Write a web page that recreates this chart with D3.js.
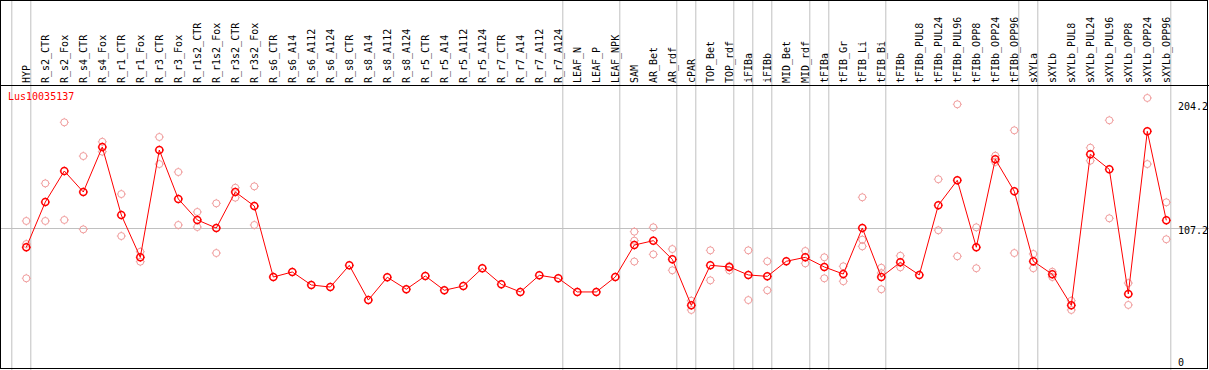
<!DOCTYPE html>
<meta charset="utf-8">
<style>
body { margin: 0; background: #fff; }
svg { display: block; }
text { font-family: "DejaVu Sans Mono", monospace; font-size: 10px; }
</style>
<body>
<script src="https://cdn.jsdelivr.net/npm/d3@7/dist/d3.min.js"></script>
<script>
// sample names, left to right
var categories = ["HYP","R_s2_CTR","R_s2_Fox","R_s4_CTR","R_s4_Fox","R_r1_CTR","R_r1_Fox","R_r3_CTR","R_r3_Fox",
  "R_r1s2_CTR","R_r1s2_Fox","R_r3s2_CTR","R_r3s2_Fox","R_s6_CTR","R_s6_A14","R_s6_A112","R_s6_A124",
  "R_s8_CTR","R_s8_A14","R_s8_A112","R_s8_A124","R_r5_CTR","R_r5_A14","R_r5_A112","R_r5_A124",
  "R_r7_CTR","R_r7_A14","R_r7_A112","R_r7_A124","LEAF_N","LEAF_P","LEAF_NPK","SAM","AR_Bet","AR_rdf",
  "cPAR","TOP_Bet","TOP_rdf","iFIBa","iFIBb","MID_Bet","MID_rdf","tFIBa","tFIB_Gr","tFIB_Li","tFIB_Bi",
  "tFIBb","tFIBb_PUL8","tFIBb_PUL24","tFIBb_PUL96","tFIBb_OPP8","tFIBb_OPP24","tFIBb_OPP96",
  "sXYLa","sXYLb","sXYLb_PUL8","sXYLb_PUL24","sXYLb_PUL96","sXYLb_OPP8","sXYLb_OPP24","sXYLb_OPP96"];

// mean expression per sample
var means = [92.2,127.3,151.4,135.1,170.0,117.2,84.4,167.7,129.7,113.4,107.1,135.1,124.2,
  69.1,73.0,62.9,61.3,78.2,51.2,68.9,59.6,69.9,58.8,62.1,75.9,63.4,57.5,70.4,68.1,57.5,57.5,69.1,
  93.9,97.3,82.8,47.1,78.2,76.9,70.7,69.6,81.3,84.4,76.9,71.4,107.1,69.1,80.5,70.7,124.8,144.2,
  92.2,160.5,135.6,81.3,71.2,47.1,164.4,152.7,55.9,182.2,113.1];

// replicate values per sample
var replicates = [[112.6,94.7,68.1],[141.8,112.6],[189.2,113.4],[163.0,106.1],[174.1,166.4],
  [133.5,100.9],[88.7,81.0],[177.8,156.8],[150.6,109.5],[119.6,107.9],[126.3,87.7],[138.4,130.7],
  [139.5,109.5],[],[],[],[],[],[],[],[],[],[],[],[],[],[],[],[],[],[],[],
  [104.3,97.3,81.1],[107.7,86.7],[90.8,74.3],[50.7,43.5],[89.8,66.5],[77.6,74.3],[89.8,51.2],
  [81.3,58.8],[],[89.3,79.7],[84.4,68.1],[77.4,65.8],[131.0,98.1,92.9],[76.3,72.2,59.6],
  [85.6,76.6],[],[145.0,105.4],[203.2,85.2],[107.7,75.9],[163.3,158.4],[183.0,87.7],
  [87.0,75.9],[73.2,69.1],[50.7,43.5],[169.5,159.4],[190.8,114.7],[64.4,47.4],[208.1,156.8],
  [127.1,98.4]];

// group dividers drawn after these samples
var dividersAfter = ["HYP","R_r7_A124","LEAF_NPK","AR_rdf","cPAR","TOP_rdf","iFIBa","iFIBb",
  "MID_rdf","tFIBa","tFIB_Bi","tFIBb_OPP96","sXYLa","sXYLb_OPP96"];

var yTicks = [0, 107.2, 204.2];
var gridTicks = [107.2];
var geneName = "Lus10035137";

var W = 1209, H = 370, headerH = 85;

var x = d3.scalePoint().domain(categories).range([26.3, 1166.3]);
var step = x.step();
var y = d3.scaleLinear().domain([0, 204.2]).range([366, 103]);

var svg = d3.select("body").append("svg")
    .attr("width", W).attr("height", H);

// vertical dividers
var divX = [x(categories[0]) - step + 4.5].concat(dividersAfter.map(function(d) { return x(d) + 4.5; }));
svg.selectAll(".div").data(divX).enter().append("line")
    .attr("x1", function(d) { return d; }).attr("x2", function(d) { return d; })
    .attr("y1", 0).attr("y2", H)
    .attr("stroke", "#c0c0c0").attr("stroke-width", 1);

// horizontal grid
svg.selectAll(".grid").data(gridTicks).enter().append("line")
    .attr("x1", 0).attr("x2", W)
    .attr("y1", function(d) { return Math.round(y(d)) + 0.5; })
    .attr("y2", function(d) { return Math.round(y(d)) + 0.5; })
    .attr("stroke", "#c0c0c0");

// sample labels, rotated
svg.selectAll(".lab").data(categories).enter().append("text")
    .attr("transform", function(d) { return "translate(" + (x(d) + 3.5) + "," + 83 + ") rotate(-90)"; })
    .attr("fill", "#000")
    .text(function(d) { return d; });

// y tick labels at the right
svg.selectAll(".tick").data(yTicks).enter().append("text")
    .attr("x", 1178)
    .attr("y", function(d) { return Math.max(105, Math.min(y(d) + 6.5, 366)); })
    .attr("fill", "#000")
    .text(function(d) { return d; });

// frame
svg.append("rect").attr("x", 0.5).attr("y", 0.5).attr("width", W - 2).attr("height", H - 2)
    .attr("fill", "none").attr("stroke", "#000");
svg.append("line").attr("x1", 0).attr("x2", W).attr("y1", headerH + 0.5).attr("y2", headerH + 0.5)
    .attr("stroke", "#000");

svg.append("text").attr("x", 8).attr("y", 100).attr("fill", "#f00").text(geneName);

function marker(sel, r, color, sw) {
  sel.append("circle").attr("r", r).attr("fill", "none").attr("stroke", color).attr("stroke-width", sw);
  sel.append("path")
    .attr("d", "M0," + (-r - 1) + "V" + (-r) + "M0," + r + "V" + (r + 1) +
               "M" + (-r - 1) + ",0H" + (-r) + "M" + r + ",0H" + (r + 1))
    .attr("stroke", color).attr("stroke-width", 1);
}

// replicate points
var repPts = [];
replicates.forEach(function(arr, i) {
  arr.forEach(function(v) { repPts.push({c: categories[i], v: v}); });
});
svg.selectAll(".rep").data(repPts).enter().append("g")
    .attr("transform", function(d) { return "translate(" + x(d.c) + "," + y(d.v) + ")"; })
    .call(marker, 3.5, "#f09c9c", 1);

// mean line
var line = d3.line()
    .x(function(d, i) { return x(categories[i]); })
    .y(function(d) { return y(d); });
svg.append("path").datum(means)
    .attr("d", line).attr("fill", "none").attr("stroke", "#f00").attr("stroke-width", 1);

svg.selectAll(".mean").data(means).enter().append("g")
    .attr("transform", function(d, i) { return "translate(" + x(categories[i]) + "," + y(d) + ")"; })
    .call(marker, 3.5, "#f00", 1.5);
</script>
</body>
